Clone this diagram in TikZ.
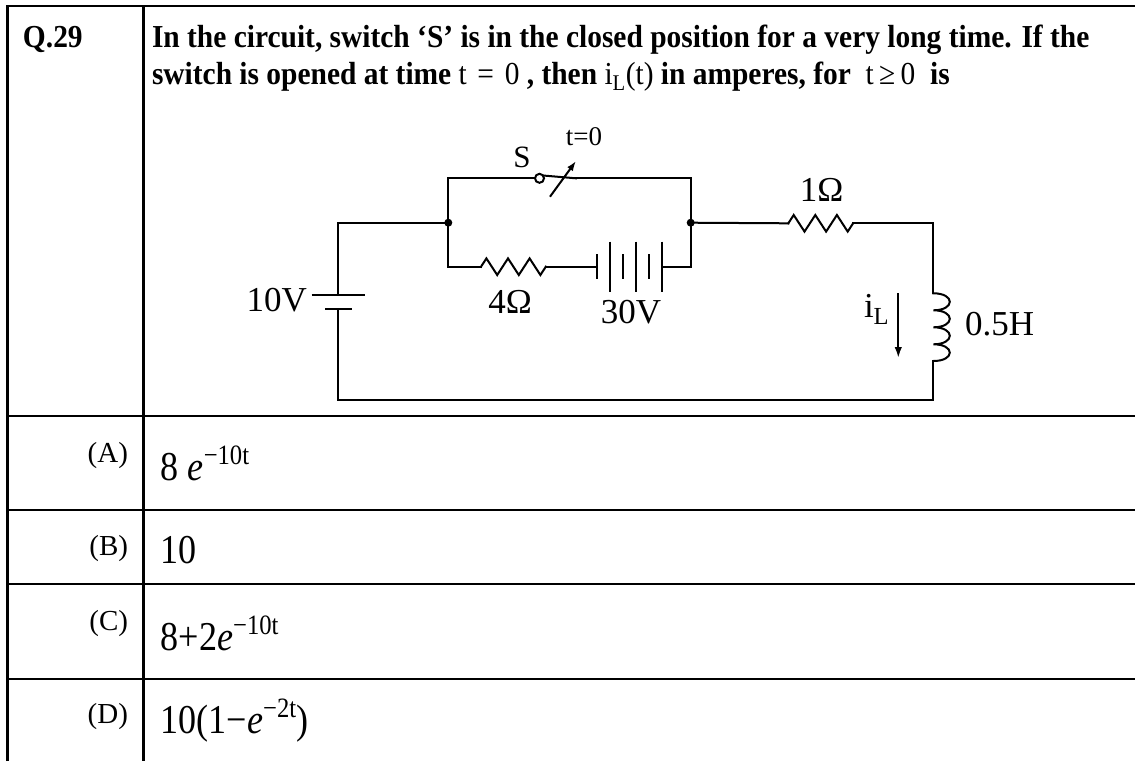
\documentclass[tikz,border=0pt]{standalone}
\usepackage{fontspec}
\setmainfont{Liberation Serif}
\newfontfamily\qfont[FakeStretch=0.92]{Liberation Serif}
\newfontfamily\optf[FakeStretch=0.88]{Liberation Serif}
\usetikzlibrary{arrows.meta}
\newcommand{\fsz}[1]{\fontsize{#1}{#1}\selectfont}
\begin{document}
\begin{tikzpicture}[x=1pt,y=-1pt,
  wire/.style={line width=2pt, line cap=rect, line join=miter},
  tbl/.style={line width=2.8pt},
  txt/.style={inner sep=0pt, outer sep=0pt},
  qtxt/.style={txt, anchor=base west, font=\qfont\fsz{32}\bfseries},
  lab/.style={txt, anchor=base east, font=\fsz{29}},
  opt/.style={txt, anchor=base west, font=\optf\fsz{41}},
  clab/.style={txt, anchor=base, font=\fsz{35}},
  plateS/.style={line width=2pt},
  dot/.style={circle, fill=black, inner sep=0pt, minimum size=8pt},
  zz/.pic={\draw[wire] (0,0) -- ++(5.4,-8.3) -- ++(10.8,16.6) -- ++(10.8,-16.6) -- ++(10.8,16.6) -- ++(10.8,-16.6) -- ++(10.8,16.6) -- ++(5.4,-8.3);}
]
\useasboundingbox (0,0) rectangle (1135,761);
% ---------- table ----------
\coordinate (t0) at (7.5,6);   \coordinate (t1) at (1135,6);
\coordinate (c0) at (143.5,6); \coordinate (c1) at (143.5,761);
\coordinate (l1) at (7.5,761);
\draw[tbl] (l1) -- (t0) -- (t1);
\draw[tbl] (c0) -- (c1);
\foreach \yy/\nm in {416/ha,510/hb,584/hc,679/hd}{
  \coordinate (\nm0) at (7.5,\yy); \coordinate (\nm1) at (1135,\yy);
  \draw[tbl] (\nm0) -- (\nm1);
}
% ---------- question ----------
\node[qtxt] (qn) at (23,47) {Q.29};
\node[qtxt] (q1) at (152,47) {In the circuit, switch ‘S’ is in the closed position for a very long time. If the};
\node[qtxt] (q2) at (152,84) {switch is opened at time {\mdseries t\,\,=\,\,0} , then {\mdseries i\textsubscript{L}(t)} in amperes, for\ \ {\mdseries t\,≥\,0}\ \ is};
% ---------- options ----------
\node[lab] (la) at (128,462) {(A)};
\node[lab] (lb) at (128,555) {(B)};
\node[lab] (lc) at (128,630) {(C)};
\node[lab] (ld) at (128,723) {(D)};
\node[opt] (oa) at (160.7,480) {8 \textit{e}\raisebox{16pt}{\fsz{28}−10t}};
\node[opt] (ob) at (160.7,563) {10};
\node[opt] (oc) at (160.7,650) {8+2\textit{e}\raisebox{16pt}{\fsz{28}−10t}};
\node[opt] (od) at (160.7,733) {10(1−\textit{e}\raisebox{16pt}{\fsz{28}−2t})};
% ---------- circuit points ----------
\coordinate (J1) at (448.3,222.7);
\coordinate (J2) at (690.7,222.7);
\coordinate (TL) at (448.3,178.3);
\coordinate (TR) at (690.7,178.3);
\coordinate (BL) at (448.3,266.7);
\coordinate (BR) at (690.7,266.7);
\coordinate (SWa) at (535,178.3);
\coordinate (SWb) at (543,175.5);
\coordinate (SWc) at (576,178.3);
\coordinate (ARa) at (550,196.7);
\coordinate (ARb) at (576,161);
\coordinate (V1a) at (338,222.7);
\coordinate (V1p) at (338,295);
\coordinate (V1n) at (338,309);
\coordinate (BotL) at (338,400);
\coordinate (BotR) at (933.3,400);
\coordinate (Lbot) at (933.3,361);
\coordinate (Ltop) at (933.3,293.3);
\coordinate (CorR) at (933.3,223.3);
\coordinate (R1b) at (853.3,223.3);
\coordinate (R1a) at (788.3,223.3);
\coordinate (R4a) at (481,266.7);
\coordinate (R4b) at (545.8,266.7);
\coordinate (B30a) at (596.7,266.7);
\coordinate (B30b) at (661.7,266.7);
\coordinate (IA) at (898.3,293);
\coordinate (IB) at (898.3,358);
% ---------- wires ----------
\draw[wire] (V1p) -- (V1a) -- (J1);
\draw[wire] (TL) -- (BL);
\draw[wire] (TL) -- (SWa);
\draw[wire] (SWc) -- (TR) -- (BR);
\draw[wire] (V1n) -- (BotL) -- (BotR) -- (Lbot);
\draw[wire] (Ltop) -- (CorR) -- (R1b);
\draw[wire] (J2) -- (R1a);
\draw[wire] (BL) -- (R4a);
\draw[wire] (R4b) -- (B30a);
\draw[wire] (B30b) -- (BR);
% resistors
\pic at (R4a) {zz};
\pic at (R1a) {zz};
% 10V source
\draw[plateS] (311.7,295) -- (365,295);
\draw[plateS] (325,309) -- (352,309);
% 30V battery
\foreach \xx/\hh in {596.7/12.5,610/25,623.3/12.5,636/25,649.3/12.5,661.7/25}{
  \draw[plateS] (\xx,266.7-\hh) -- (\xx,266.7+\hh);
}
% switch
\draw[wire] (539.5,178.3) circle[radius=4.5];
\draw[wire] (SWb) -- (SWc);
\draw[line width=2pt, -{Latex[length=10pt,width=7pt]}] (ARa) -- (ARb);
% inductor
\draw[wire] (Ltop) .. controls +(22,0) and +(22,0) .. ++(0,17)
  .. controls +(22,0) and +(22,0) .. ++(0,17)
  .. controls +(22,0) and +(22,0) .. ++(0,17)
  .. controls +(22,0) and +(22,0) .. (Lbot);
% current arrow
\draw[line width=2pt, -{Latex[length=11pt,width=7.5pt]}] (IA) -- (IB);
% junction dots
\node[dot] (d1) at (J1) {};
\node[dot] (d2) at (J2) {};
% ---------- circuit labels ----------
\node[txt, anchor=base, font=\fsz{31}] (sl) at (522,167) {S};
\node[txt, anchor=base, font=\fsz{27}] (tl) at (584,145) {t=0};
\node[clab, anchor=base east] (v10) at (307,311.7) {10V};
\node[clab] (r4l) at (510,313) {4Ω};
\node[clab] (v30) at (631,323) {30V};
\node[clab] (r1l) at (821.7,201.7) {1Ω};
\node[clab, anchor=base west] (lh) at (965,335) {0.5H};
\node[clab, anchor=base west] (il) at (864,317) {i\textsubscript{L}};
\end{tikzpicture}
\end{document}
